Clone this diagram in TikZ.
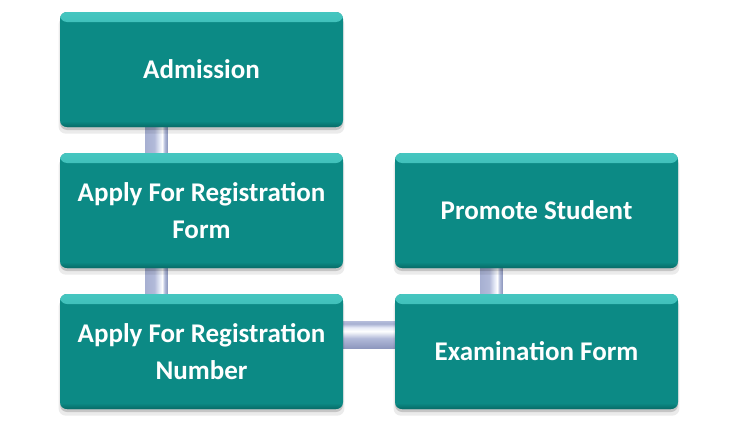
\documentclass[tikz,border=0pt]{standalone}
\usepackage{fontspec}
\setmainfont{Carlito}
\usetikzlibrary{shadows,backgrounds}
\definecolor{tealmain}{HTML}{0C8A85}
\definecolor{teallight}{HTML}{45C6C0}
\definecolor{tealdark}{HTML}{076B67}
\definecolor{cA}{HTML}{A7B0D2}
\definecolor{cB}{HTML}{B2BAD9}
\definecolor{cC}{HTML}{E6EAF7}
\definecolor{cD}{HTML}{B6BEDC}
\definecolor{cE}{HTML}{8C96BD}
\pgfdeclarehorizontalshading{vbarshade}{100bp}{color(0bp)=(cA); color(25bp)=(cA); color(45bp)=(cB); color(57bp)=(cC); color(63bp)=(white); color(68bp)=(cD); color(75bp)=(cE); color(100bp)=(cE)}
\pgfdeclareverticalshading{hbarshade}{100bp}{color(0bp)=(cE); color(25bp)=(cE); color(44bp)=(cB); color(57bp)=(white); color(64bp)=(cC); color(71bp)=(cA); color(75bp)=(cB); color(100bp)=(cB)}
\begin{document}
\begin{tikzpicture}[x=1pt,y=-1pt,
  box/.style={rounded corners=7pt, minimum width=283pt, minimum height=115pt,
    inner sep=0pt, text=white, font=\bfseries\fontsize{27}{37}\selectfont,
    align=center, fill=tealmain,
    drop shadow={shadow xshift=0pt, shadow yshift=-6pt, shadow scale=1.01, fill=black, opacity=0.08},
    drop shadow={shadow xshift=0pt, shadow yshift=-3pt, fill=black, opacity=0.16},
    path picture={
      \shade[top color=teallight, bottom color=tealmain]
        (path picture bounding box.north west) rectangle
        ([yshift=-10pt]path picture bounding box.north east);
      \shade[top color=tealmain, bottom color=tealdark]
        ([yshift=6pt]path picture bounding box.south west) rectangle
        (path picture bounding box.south east);
    }},
  vconn/.style={shading=vbarshade},
  hconn/.style={shading=hbarshade}
]
\useasboundingbox (0,0) rectangle (740,434);
\node[box] (adm) at (201.5,69.5) {Admission};
\node[box] (arf) at (201.5,210.5) {Apply For Registration\\Form};
\node[box] (arn) at (201.5,351.5) {Apply For Registration\\Number};
\node[box] (pro) at (536.5,210.5) {Promote Student};
\node[box] (exa) at (536.5,351.5) {Examination Form};
\begin{scope}[on background layer]
  \shade[vconn] ([xshift=-56pt,yshift=2pt]adm.south) rectangle ([xshift=-34pt,yshift=-2pt]arf.north);
  \shade[vconn] ([xshift=-56pt,yshift=2pt]arf.south) rectangle ([xshift=-34pt,yshift=-2pt]arn.north);
  \shade[vconn] ([xshift=-56pt,yshift=2pt]pro.south) rectangle ([xshift=-34pt,yshift=-2pt]exa.north);
  \shade[hconn] ([xshift=-2pt,yshift=30pt]arn.east) rectangle ([xshift=2pt,yshift=3pt]exa.west);
\end{scope}
\end{tikzpicture}
\end{document}
